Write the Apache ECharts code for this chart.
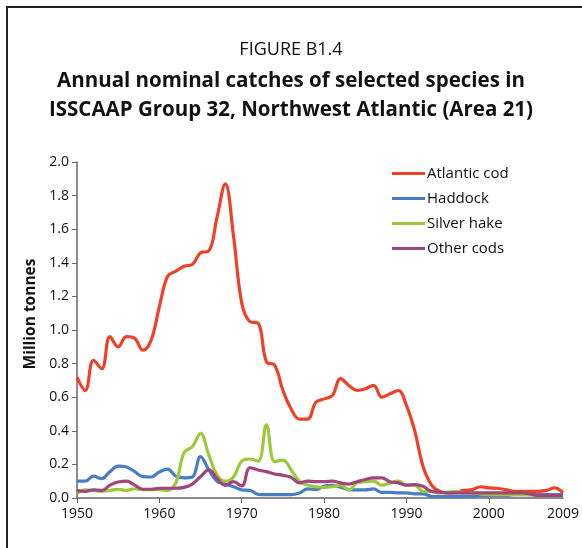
<!DOCTYPE html>
<html>
<head>
<meta charset="utf-8">
<script src="https://cdn.jsdelivr.net/npm/echarts@6/dist/echarts.min.js"></script>
<style>
  html, body { margin: 0; padding: 0; background: #fff; }
  #chart { width: 582px; height: 548px; }
  .frame {
    position: absolute; left: 6px; top: 6px; width: 620px; height: 620px;
    border-left: 2px solid #222; border-top: 2px solid #222; pointer-events: none;
  }
</style>
</head>
<body>
<div id="chart"></div>
<div class="frame"></div>
<script>
// years 1950..2009
const years = []
for (let y = 1950; y <= 2009; y++) years.push(y)

// million tonnes
const atlanticCod = [
  0.72, 0.64, 0.82, 0.77, 0.96, 0.90, 0.96, 0.95, 0.88, 0.94,
  1.14, 1.32, 1.35, 1.38, 1.39, 1.46, 1.47, 1.67, 1.87, 1.56,
  1.16, 1.05, 1.04, 0.81, 0.79, 0.64, 0.53, 0.47, 0.47, 0.57,
  0.59, 0.61, 0.71, 0.67, 0.64, 0.65, 0.67, 0.60, 0.62, 0.64,
  0.55, 0.40, 0.19, 0.08, 0.04, 0.03, 0.035, 0.045, 0.05, 0.067,
  0.06, 0.058, 0.05, 0.04, 0.04, 0.04, 0.04, 0.045, 0.06, 0.03
]
const haddock = [
  0.10, 0.10, 0.13, 0.115, 0.157, 0.19, 0.185, 0.157, 0.127, 0.125,
  0.155, 0.172, 0.13, 0.12, 0.125, 0.246, 0.167, 0.10, 0.083, 0.067,
  0.048, 0.045, 0.022, 0.02, 0.02, 0.02, 0.02, 0.03, 0.054, 0.05,
  0.071, 0.075, 0.065, 0.05, 0.048, 0.048, 0.054, 0.033, 0.033, 0.03,
  0.03, 0.025, 0.025, 0.01, 0.008, 0.01, 0.01, 0.01, 0.01, 0.015,
  0.015, 0.015, 0.015, 0.02, 0.02, 0.02, 0.02, 0.02, 0.02, 0.02
]
const silverHake = [
  0.028, 0.048, 0.045, 0.04, 0.045, 0.052, 0.045, 0.055, 0.05, 0.05,
  0.05, 0.045, 0.09, 0.27, 0.305, 0.385, 0.256, 0.137, 0.10, 0.125,
  0.22, 0.232, 0.22, 0.435, 0.216, 0.226, 0.167, 0.10, 0.077, 0.067,
  0.063, 0.067, 0.077, 0.048, 0.09, 0.097, 0.10, 0.077, 0.09, 0.10,
  0.077, 0.077, 0.04, 0.04, 0.03, 0.035, 0.04, 0.03, 0.03, 0.025,
  0.02, 0.02, 0.02, 0.02, 0.02, 0.02, 0.015, 0.015, 0.015, 0.015
]
const otherCods = [
  0.044, 0.04, 0.048, 0.045, 0.077, 0.095, 0.10, 0.077, 0.052, 0.052,
  0.058, 0.058, 0.058, 0.063, 0.083, 0.127, 0.168, 0.117, 0.075, 0.097,
  0.072, 0.18, 0.167, 0.157, 0.143, 0.135, 0.123, 0.09, 0.10, 0.097,
  0.097, 0.10, 0.09, 0.083, 0.097, 0.11, 0.12, 0.12, 0.097, 0.09,
  0.077, 0.08, 0.07, 0.04, 0.035, 0.03, 0.03, 0.03, 0.03, 0.03,
  0.03, 0.03, 0.03, 0.03, 0.03, 0.025, 0.015, 0.015, 0.015, 0.015
]
const seriesNames = ['Atlantic cod', 'Haddock', 'Silver hake', 'Other cods']
const seriesColors = ['#ef4128', '#4a7dc4', '#9cc93a', '#a0467c']
const xLabelValues = [1950, 1960, 1970, 1980, 1990, 2000, 2009]
const xTickValues = [1950, 1960, 1970, 1980, 1990, 2000]

const font = '"Open Sans", "Noto Sans", sans-serif'
const chart = echarts.init(document.getElementById('chart'))

const makeSeries = (name, values, color) => ({
  name: name,
  type: 'line',
  smooth: 0.4,
  showSymbol: false,
  data: years.map((y, i) => [y, values[i]]),
  lineStyle: { color: color, width: 3.2 },
  itemStyle: { color: color }
})

const option = {
  animation: false,
  title: [
    {
      text: 'FIGURE B1.4',
      left: 'center', top: 36,
      textStyle: { fontFamily: font, fontSize: 18, fontWeight: 'normal', color: '#111' }
    },
    {
      text: 'Annual nominal catches of selected species in\nISSCAAP Group 32, Northwest Atlantic (Area 21)',
      left: 'center', top: 62,
      textStyle: { fontFamily: font, fontSize: 20.5, fontWeight: 'bold', color: '#111', lineHeight: 29 }
    }
  ],
  legend: {
    orient: 'vertical',
    left: 387, top: 161,
    itemWidth: 33, itemHeight: 3, itemGap: 10,
    icon: 'rect',
    textStyle: { fontFamily: font, fontSize: 15, color: '#111', padding: [0, 0, 0, -3] },
    data: seriesNames
  },
  grid: { left: 77, right: 17, top: 162, bottom: 50 },
  xAxis: {
    type: 'value',
    min: 1950, max: 2009, interval: 10,
    axisLine: { lineStyle: { color: '#666', width: 1.5 } },
    axisTick: { customValues: xTickValues, length: 5, lineStyle: { color: '#666' } },
    axisLabel: {
      customValues: xLabelValues,
      fontFamily: font, fontSize: 14, color: '#111', margin: 9,
      formatter: v => String(v)
    },
    splitLine: { show: false }
  },
  yAxis: {
    type: 'value',
    min: 0, max: 2, interval: 0.2,
    name: 'Million tonnes',
    nameLocation: 'middle', nameGap: 38, nameRotate: 90,
    nameTextStyle: { fontFamily: font, fontSize: 15.5, fontWeight: 'bold', color: '#111', padding: [0, 0, 0, 32] },
    axisLine: { show: true, lineStyle: { color: '#666', width: 1.5 } },
    axisTick: { show: true, length: 5, lineStyle: { color: '#666' } },
    axisLabel: { fontFamily: font, fontSize: 14, color: '#111', margin: 8, formatter: v => v.toFixed(1) },
    splitLine: { show: false }
  },
  series: [
    makeSeries(seriesNames[0], atlanticCod, seriesColors[0]),
    makeSeries(seriesNames[1], haddock, seriesColors[1]),
    makeSeries(seriesNames[2], silverHake, seriesColors[2]),
    makeSeries(seriesNames[3], otherCods, seriesColors[3])
  ]
}
chart.setOption(option)
</script>
</body>
</html>
